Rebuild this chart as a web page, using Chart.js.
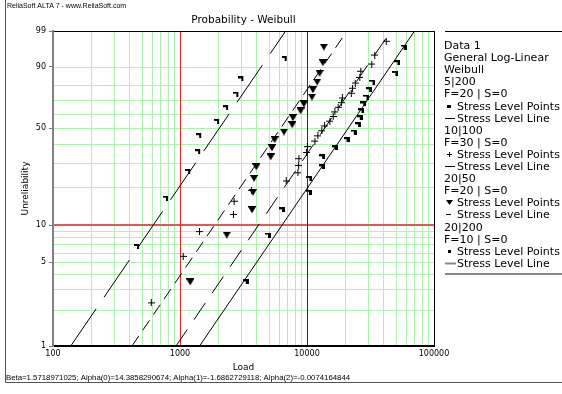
<!DOCTYPE html>
<html><head><meta charset="utf-8">
<script src="https://cdn.jsdelivr.net/npm/chart.js@4.4.0/dist/chart.umd.min.js"></script>
<style>html,body{margin:0;padding:0;background:#fff;}canvas{display:block;}</style>
</head><body>
<canvas id="c" width="562" height="394"></canvas>
<script>
// ---------------- data ----------------
const chartTitle = 'Probability - Weibull';
const headerText = 'ReliaSoft ALTA 7 - www.ReliaSoft.com';
const footerText = 'Beta=1.5718971025; Alpha(0)=14.3858290674; Alpha(1)=-1.6862729118; Alpha(2)=-0.0074164844';
const xTitle = 'Load';
const yTitle = 'Unreliability';
const legendHeader = ['Data 1', 'General Log-Linear', 'Weibull'];
const groups = ['5|200', '10|100', '20|50', '20|200'];
const failures = [20, 30, 20, 10];
const suspensions = [0, 0, 0, 0];

const xTickLabels = [100, 1000, 10000, 100000];
const yTickLabels = [1, 5, 10, 50, 90, 99];
const xGridValues = [100,200,300,400,500,600,700,800,900,1000,2000,3000,4000,5000,6000,7000,8000,9000,
  10000,20000,30000,40000,50000,60000,70000,80000,90000,100000];
const yGridValues = [1,2,3,4,5,6,7,8,9,10,20,30,40,50,60,70,80,90,99];

// 5|200 points
const load5_200 = [3294, 4930, 6351, 10349, 10443, 13094, 13164, 16567, 20470, 23360,
  25250, 26036, 26850, 27700, 29390, 30800, 32760, 49660, 51480, 57700];
const unrel5_200 = [3.43, 8.33, 13.24, 18.14, 23.04, 27.94, 32.84, 37.75, 42.65, 47.55,
  52.45, 57.35, 62.25, 67.16, 72.06, 76.96, 81.86, 86.76, 91.67, 96.57];
// 10|100 points
const load10_100 = [594, 1060, 1423, 2633, 2666, 3650, 6864, 8482, 8590, 8638,
  9892, 10072, 11537, 12176, 13094, 13750, 15130, 16063, 16567, 17589,
  18700, 18972, 22330, 22819, 24000, 26036, 26508, 32340, 34150, 42040];
const unrel10_100 = [2.30, 5.59, 8.88, 12.17, 15.46, 18.75, 22.04, 25.33, 28.62, 31.91,
  35.20, 38.49, 41.78, 45.07, 48.36, 51.64, 54.93, 58.22, 61.51, 64.80,
  68.09, 71.38, 74.67, 77.96, 81.25, 84.54, 87.83, 91.12, 94.41, 97.70];
// 20|50 points
const load20_50 = [1203, 2335, 3692, 3758, 3828, 3990, 5177, 5300, 5566, 6584,
  7648, 7746, 8906, 9454, 10925, 11125, 12025, 12563, 13333, 13577];
const unrel20_50 = [3.43, 8.33, 13.24, 18.14, 23.04, 27.94, 32.84, 37.75, 42.65, 47.55,
  52.45, 57.35, 62.25, 67.16, 72.06, 76.96, 81.86, 86.76, 91.67, 96.57];
// 20|200 points
const load20_200 = [459, 775, 1160, 1390, 1415, 1960, 2307, 2779, 3042, 6668];
const unrel20_200 = [6.73, 16.35, 25.96, 35.58, 45.19, 54.81, 64.42, 74.04, 83.65, 93.27];

// fitted stress level lines (load at the two ends)
const lineLoad5_200 = [1425, 70280];
const lineLoad10_100 = [930, 45840];
const lineLoad20_50 = [419, 20650];
const lineLoad20_200 = [138, 6790];
const lineUnrel = [1, 99];

// ---------------- markers ----------------
function mk(w, h, draw) {
  const c = document.createElement('canvas'); c.width = w; c.height = h;
  const g = c.getContext('2d'); g.fillStyle = '#000'; draw(g); return c;
}
const mFlag = mk(6, 5, g => { g.fillRect(0, 0, 6, 2); g.fillRect(3, 2, 3, 3); });
const mDot = mk(6, 5, g => { g.fillRect(0, 0, 5, 2); g.fillRect(3, 2, 2, 3); });
const mPlus = mk(7, 7, g => { g.fillRect(0, 3, 7, 1); g.fillRect(3, 0, 1, 7); });
const mTri = mk(8, 7, g => { g.fillRect(0, 0, 8, 1); g.beginPath(); g.moveTo(0.5, 1); g.lineTo(7.5, 1); g.lineTo(4, 7); g.closePath(); g.fill(); });
const mFlagL = mk(4, 3, g => { g.fillRect(0, 0, 4, 3); });
const mPlusL = mk(5, 5, g => { g.fillRect(0, 2, 5, 1); g.fillRect(2, 0, 1, 5); });
const mTriL = mk(7, 5, g => { g.beginPath(); g.moveTo(0, 0); g.lineTo(7, 0); g.lineTo(3.5, 5); g.closePath(); g.fill(); });
const mDotL = mk(3, 3, g => { g.fillRect(0, 0, 3, 3); });

// ---------------- Weibull probability scale ----------------
const T = p => Math.log(-Math.log(1 - p / 100));
class WeibullScale extends Chart.Scale {
  determineDataLimits() { this.min = this.options.min; this.max = this.options.max; }
  buildTicks() { return yGridValues.map(v => ({ value: v })); }
  configure() { super.configure(); this._t0 = T(this.min); this._t1 = T(this.max); }
  getLabelForValue(v) { return '' + v; }
  getPixelForValue(v) { return this.getPixelForDecimal((T(v) - this._t0) / (this._t1 - this._t0)); }
  getValueForPixel(p) {
    const t = this._t0 + this.getDecimalForPixel(p) * (this._t1 - this._t0);
    return 100 * (1 - Math.exp(-Math.exp(t)));
  }
}
WeibullScale.id = 'weibull';
WeibullScale.defaults = {};
Chart.register(WeibullScale);

const pts = (xs, ys) => xs.map((x, i) => ({ x: x, y: ys[i] }));
function pointSet(xs, ys, marker) {
  return { type: 'scatter', data: pts(xs, ys), pointStyle: marker, pointRadius: 4, showLine: false };
}
function lineSet(xs, dash) {
  return { type: 'line', data: pts(xs, lineUnrel), borderColor: '#000', borderWidth: 1,
    borderDash: dash, pointRadius: 0, fill: false, showLine: true };
}

const red1000 = '#e32626', red10000 = '#a00000', red10 = '#dc5a5a', green = '#b0f0b0';

// grid drawn from the library's scales
const gridPlugin = {
  id: 'probGrid',
  beforeDatasetsDraw(chart) {
    const ctx = chart.ctx, a = chart.chartArea, xs = chart.scales.x, ys = chart.scales.y;
    ctx.save();
    const vline = (v, col) => { const px = Math.round(xs.getPixelForValue(v)) + 0.5;
      ctx.strokeStyle = col; ctx.lineWidth = 1; ctx.beginPath(); ctx.moveTo(px, a.top); ctx.lineTo(px, a.bottom - 1); ctx.stroke(); };
    const hline = (v, col, w) => { const py = w === 2 ? Math.round(ys.getPixelForValue(v)) : Math.round(ys.getPixelForValue(v)) + 0.5;
      ctx.strokeStyle = col; ctx.lineWidth = w; ctx.beginPath(); ctx.moveTo(a.left + 1, py); ctx.lineTo(a.right, py); ctx.stroke(); };
    xGridValues.forEach(v => { if (v !== 100 && v !== 1000 && v !== 10000 && v !== 100000) vline(v, green); });
    yGridValues.forEach(v => { if (v !== 1 && v !== 10 && v !== 99) hline(v, green, 1); });
    hline(10, red10, 2);
    vline(1000, red1000);
    vline(10000, red10000);
    hline(99, '#000', 1);
    vline(100000, '#000');
    ctx.restore();
  }
};

const textPlugin = {
  id: 'texts',
  afterDraw(chart) {
    const ctx = chart.ctx, a = chart.chartArea;
    ctx.save();
    ctx.strokeStyle = '#555'; ctx.lineWidth = 1;
    ctx.beginPath(); ctx.moveTo(5.5, 0); ctx.lineTo(5.5, 382.5); ctx.lineTo(562, 382.5); ctx.stroke();
    ctx.fillStyle = '#000';
    ctx.textBaseline = 'alphabetic';
    ctx.font = '7px "Liberation Sans"'; ctx.textAlign = 'left';
    ctx.fillText(headerText, 7, 8);
    ctx.font = '7.8px "Liberation Sans"';
    ctx.fillText(footerText, 6, 380);
    ctx.font = '10.5px "DejaVu Sans"'; ctx.textAlign = 'center';
    ctx.fillText(chartTitle, (a.left + a.right) / 2, 23);
    // legend
    ctx.strokeStyle = '#000'; ctx.lineWidth = 1;
    ctx.beginPath(); ctx.moveTo(445, 31.5); ctx.lineTo(562, 31.5); ctx.stroke();
    const rows = [];
    legendHeader.forEach(t => rows.push({ t: t }));
    const pm = [mFlagL, mPlusL, mTriL, mDotL];
    const ls = [[445, 455, '#000', 1], [445, 455, '#000', 1], [446, 451, '#000', 1], [445, 456, '#888', 2]];
    groups.forEach((g, i) => {
      rows.push({ t: g });
      rows.push({ t: 'F=' + failures[i] + ' | S=' + suspensions[i] });
      rows.push({ t: 'Stress Level Points', m: pm[i] });
      rows.push({ t: 'Stress Level Line', l: ls[i] });
    });
    ctx.font = '11px "DejaVu Sans"'; ctx.textAlign = 'left';
    rows.forEach((r, i) => {
      const by = 49 + i * 12.1, cy = Math.round(by - 4);
      if (r.m) {
        ctx.drawImage(r.m, Math.round(449 - r.m.width / 2), Math.round(cy - r.m.height / 2));
        ctx.fillText(r.t, 457, by);
      } else if (r.l) {
        ctx.strokeStyle = r.l[2]; ctx.lineWidth = r.l[3];
        ctx.beginPath(); ctx.moveTo(r.l[0], cy + 0.5); ctx.lineTo(r.l[1], cy + 0.5); ctx.stroke();
        ctx.fillText(r.t, 457, by);
      } else {
        ctx.fillText(r.t, 444, by);
      }
    });
    ctx.strokeStyle = '#888'; ctx.lineWidth = 2;
    ctx.beginPath(); ctx.moveTo(445, 274); ctx.lineTo(562, 274); ctx.stroke();
    ctx.restore();
  }
};

new Chart(document.getElementById('c'), {
  type: 'scatter',
  data: {
    datasets: [
      pointSet(load5_200, unrel5_200, mFlag),
      pointSet(load10_100, unrel10_100, mPlus),
      pointSet(load20_50, unrel20_50, mTri),
      pointSet(load20_200, unrel20_200, mDot),
      lineSet(lineLoad5_200, []),
      lineSet(lineLoad10_100, [20, 12]),
      lineSet(lineLoad20_50, [12, 7]),
      lineSet(lineLoad20_200, [45, 14])
    ]
  },
  options: {
    responsive: false, animation: false, devicePixelRatio: 1,
    layout: { padding: { left: 0, top: 31, right: 128, bottom: 18 } },
    plugins: { legend: { display: false }, tooltip: { enabled: false }, title: { display: false } },
    scales: {
      x: {
        type: 'logarithmic', min: 100, max: 100000,
        afterBuildTicks: s => { s.ticks = xGridValues.map(v => ({ value: v })); },
        afterFit: s => { s.height = 30; },
        ticks: { autoSkip: false, maxRotation: 0, padding: 3, color: '#000',
          font: { family: 'DejaVu Sans', size: 8 },
          callback: v => xTickLabels.includes(v) ? String(v) : '' },
        grid: { drawOnChartArea: false, drawTicks: false },
        border: { color: '#000', width: 2 },
        title: { display: true, text: xTitle, color: '#000', font: { family: 'DejaVu Sans', size: 9 },
          padding: { top: 0, bottom: 3 } }
      },
      y: {
        type: 'weibull', position: 'left', min: 1, max: 99,
        afterFit: s => { s.width = 53; },
        ticks: { autoSkip: false, padding: 3, color: '#000', font: { family: 'DejaVu Sans', size: 8 },
          callback: v => yTickLabels.includes(v) ? String(v) : '' },
        grid: {
          drawOnChartArea: false, tickLength: 4,
          tickColor: c => (c.tick && yTickLabels.includes(c.tick.value)) ? '#777' : 'rgba(0,0,0,0)'
        },
        border: { color: '#808080', width: 2 },
        title: { display: true, text: yTitle, color: '#000', font: { family: 'DejaVu Sans', size: 9 },
          padding: { top: 20, bottom: 0 } }
      }
    }
  },
  plugins: [gridPlugin, textPlugin]
});
</script>
</body></html>
